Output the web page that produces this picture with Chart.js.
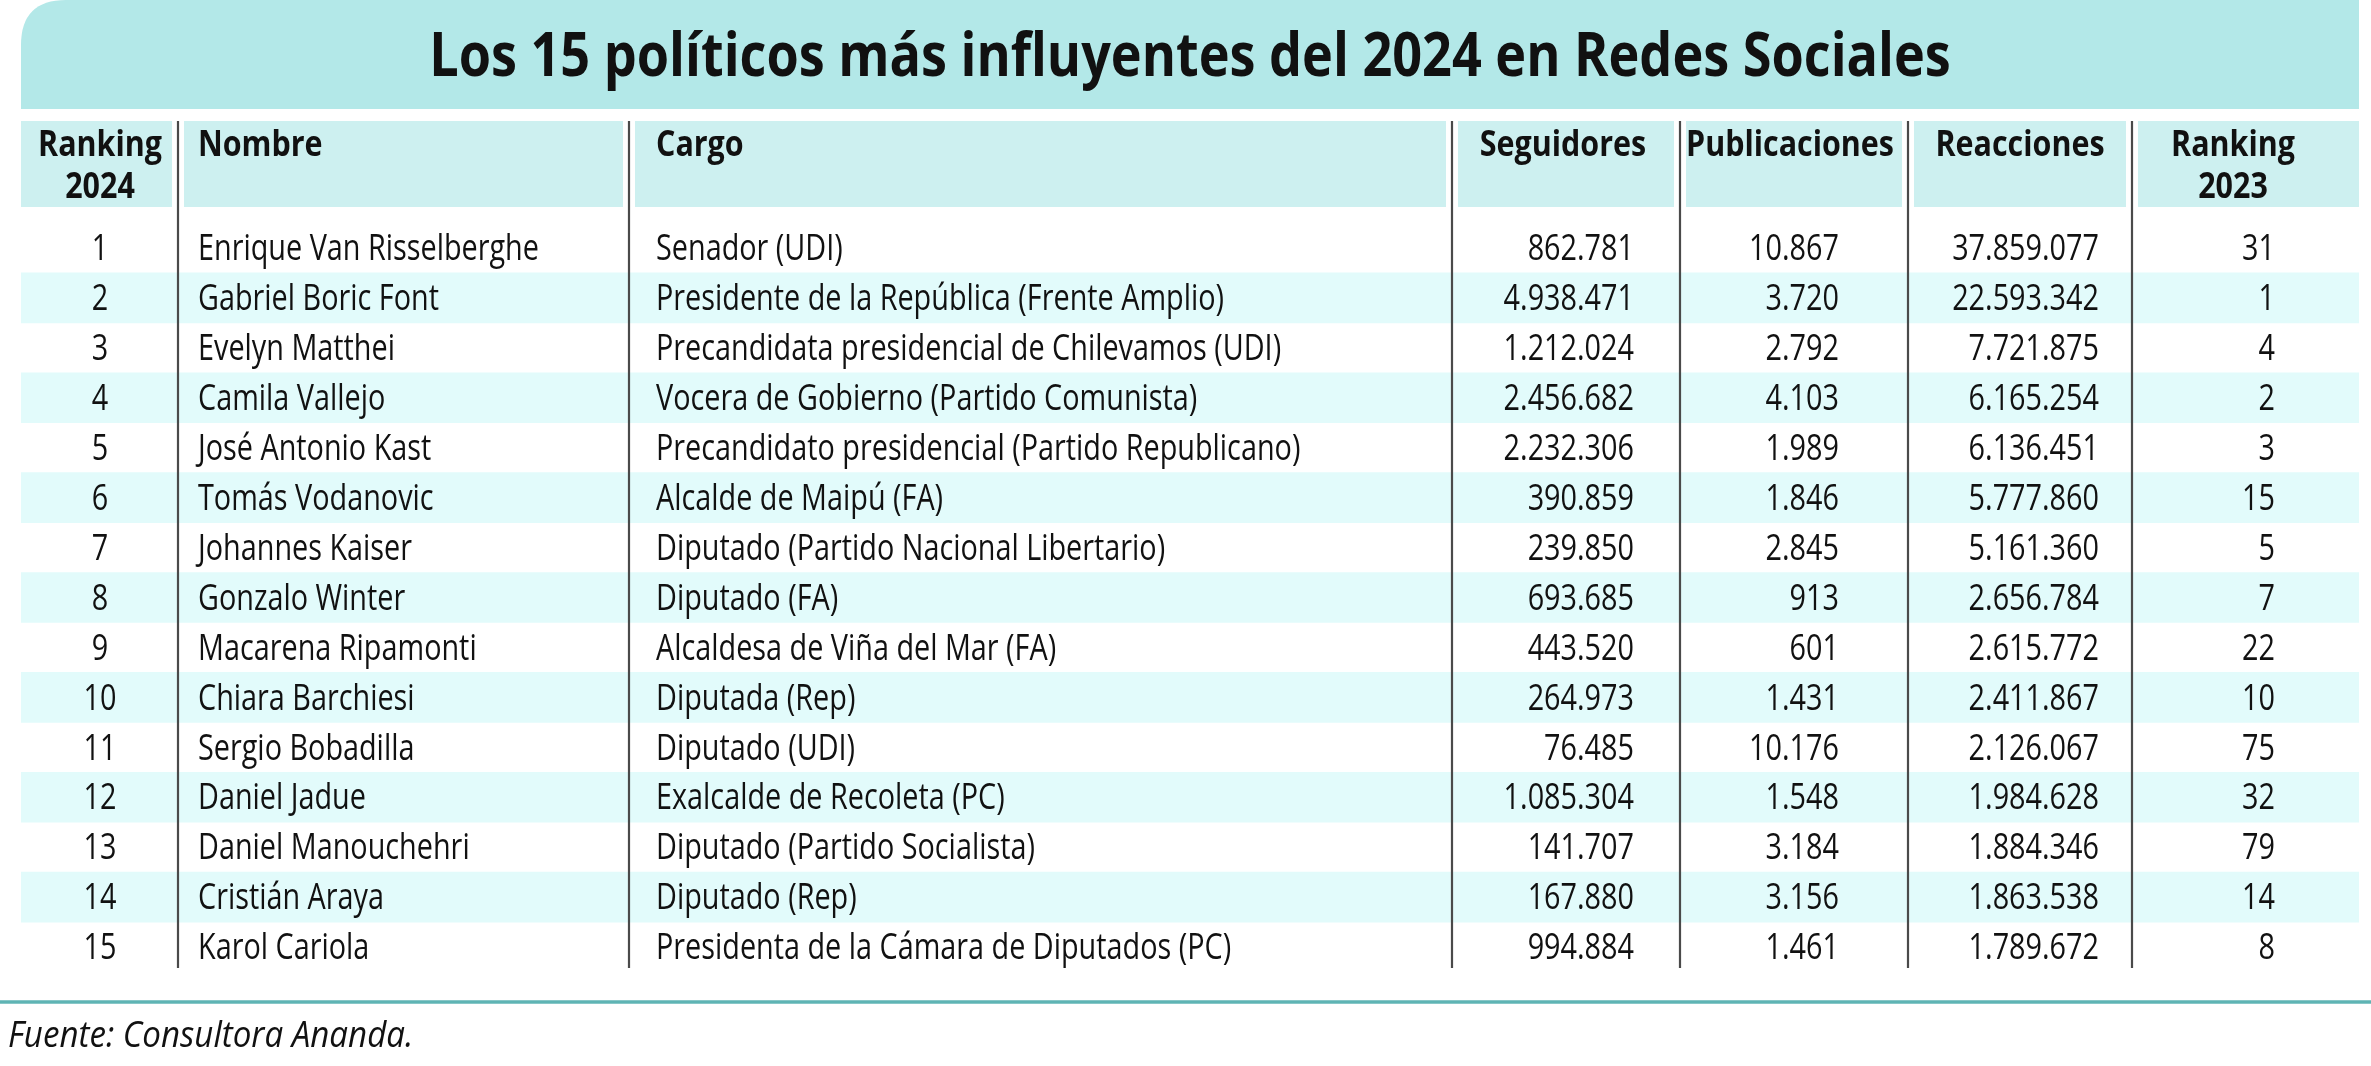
<!DOCTYPE html>
<html><head><meta charset="utf-8">
<script src="https://cdn.jsdelivr.net/npm/chart.js@4"></script>
<style>html,body{margin:0;padding:0;background:#fff}#c{display:block}</style>
</head><body>
<div style="width:2371px;height:1066px"><canvas id="c"></canvas></div>
<script>
const title = "Los 15 políticos más influyentes del 2024 en Redes Sociales";
const headers = ["Ranking\n2024","Nombre","Cargo","Seguidores","Publicaciones","Reacciones","Ranking\n2023"];
const ranking2024 = ["1","2","3","4","5","6","7","8","9","10","11","12","13","14","15"];
const nombres = ["Enrique Van Risselberghe","Gabriel Boric Font","Evelyn Matthei","Camila Vallejo","José Antonio Kast","Tomás Vodanovic","Johannes Kaiser","Gonzalo Winter","Macarena Ripamonti","Chiara Barchiesi","Sergio Bobadilla","Daniel Jadue","Daniel Manouchehri","Cristián Araya","Karol Cariola"];
const cargos = ["Senador (UDI)","Presidente de la República (Frente Amplio)","Precandidata presidencial de Chilevamos (UDI)","Vocera de Gobierno (Partido Comunista)","Precandidato presidencial (Partido Republicano)","Alcalde de Maipú (FA)","Diputado (Partido Nacional Libertario)","Diputado (FA)","Alcaldesa de Viña del Mar (FA)","Diputada (Rep)","Diputado (UDI)","Exalcalde de Recoleta (PC)","Diputado (Partido Socialista)","Diputado (Rep)","Presidenta de la Cámara de Diputados (PC)"];
const seguidores = ["862.781","4.938.471","1.212.024","2.456.682","2.232.306","390.859","239.850","693.685","443.520","264.973","76.485","1.085.304","141.707","167.880","994.884"];
const publicaciones = ["10.867","3.720","2.792","4.103","1.989","1.846","2.845","913","601","1.431","10.176","1.548","3.184","3.156","1.461"];
const reacciones = ["37.859.077","22.593.342","7.721.875","6.165.254","6.136.451","5.777.860","5.161.360","2.656.784","2.615.772","2.411.867","2.126.067","1.984.628","1.884.346","1.863.538","1.789.672"];
const ranking2023 = ["31","1","4","2","3","15","5","7","22","10","75","32","79","14","8"];
const source = "Fuente: Consultora Ananda.";

const LEFT=21, RIGHT=2359;
const seps=[178,629,1452,1680,1908,2132];
const cellL=[21,184,635,1458,1686,1914,2138];
const cellR=[172,623,1446,1674,1902,2126,2359];
const bodyX=[[100,'center'],[198,'left'],[656,'left'],[1634,'right'],[1839,'right'],[2099,'right'],[2275,'right']];
const headX=[[100,'center'],[198,'left'],[656,'left'],[1563,'center'],[1790,'center'],[2020,'center'],[2233,'center']];
const cols=[ranking2024,nombres,cargos,seguidores,publicaciones,reacciones,ranking2023];
function txt(ctx,s,x,y,align,font,sx){
  ctx.save();ctx.font=font;ctx.textBaseline='middle';ctx.textAlign=align;
  ctx.translate(x,y);ctx.scale(sx,1);ctx.fillText(s,0,0);ctx.restore();
}
const tablePlugin={id:'tbl',
 beforeDatasetsDraw(ch){
  const ctx=ch.ctx;ctx.save();
  ctx.fillStyle='#b3e8e8';ctx.beginPath();
  ctx.moveTo(LEFT,109);ctx.lineTo(LEFT,45);ctx.quadraticCurveTo(LEFT,0,LEFT+45,0);ctx.lineTo(RIGHT,0);ctx.lineTo(RIGHT,109);ctx.closePath();ctx.fill();
  ctx.fillStyle='#cdf0f0';
  for(let i=0;i<7;i++) ctx.fillRect(cellL[i],121,cellR[i]-cellL[i],86);
  ctx.restore();
 },
 afterDatasetsDraw(ch){
  const ctx=ch.ctx, y=ch.scales.y;ctx.save();
  ctx.strokeStyle='#4a4a4a';ctx.lineWidth=2.2;
  seps.forEach(x=>{ctx.beginPath();ctx.moveTo(x,121);ctx.lineTo(x,968);ctx.stroke();});
  ctx.strokeStyle='#5fb4b4';ctx.lineWidth=3.5;ctx.beginPath();ctx.moveTo(0,1002);ctx.lineTo(2371,1002);ctx.stroke();
  ctx.fillStyle='#111';
  txt(ctx,title,1190,59,'center','bold 60px "Open Sans"',0.87);
  headers.forEach((h,i)=>{const L=h.split('\n');L.forEach((l,k)=>txt(ctx,l,headX[i][0],146+k*42,headX[i][1],'bold 35px "Open Sans"',0.87));});
  ranking2024.forEach((r,j)=>{const py=y.getPixelForValue(j);
    cols.forEach((c,i)=>txt(ctx,c[j],bodyX[i][0],py+2,bodyX[i][1],'36px "Open Sans"',0.8));});
  txt(ctx,source,8,1037,'left','italic 36px "Open Sans"',0.92);
  ctx.restore();
 }};
new Chart(document.getElementById('c'),{
 type:'bar',
 data:{labels:ranking2024,datasets:[{data:ranking2024.map((r,j)=>j%2?[LEFT,RIGHT]:null),
   backgroundColor:'#e2fbfb',barPercentage:1,categoryPercentage:1,borderWidth:0}]},
 options:{indexAxis:'y',responsive:true,maintainAspectRatio:false,animation:false,
  layout:{padding:{top:223,bottom:94,left:21,right:12}},
  plugins:{legend:{display:false},tooltip:{enabled:false}},
  scales:{x:{type:'linear',min:LEFT,max:RIGHT,display:false},y:{display:false}}},
 plugins:[tablePlugin]});
</script></body></html>
